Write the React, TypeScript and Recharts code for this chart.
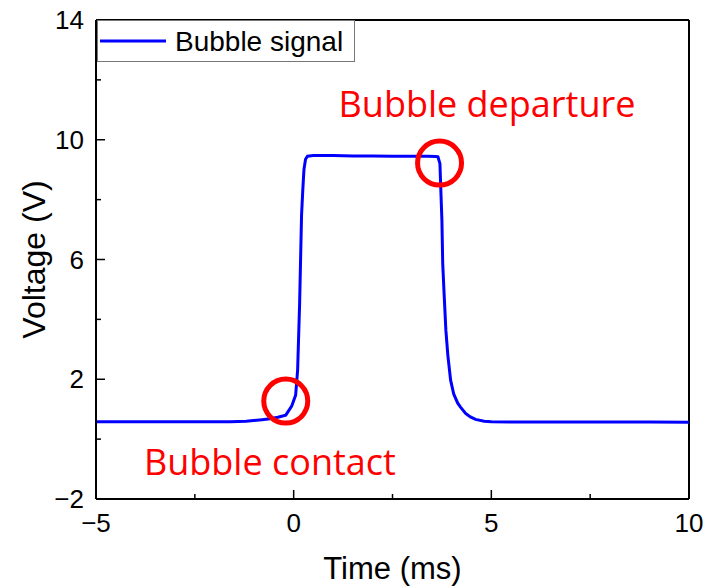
import React from 'react';
import {
  LineChart,
  Line,
  XAxis,
  YAxis,
  Legend,
  ReferenceDot,
  ReferenceLine,
} from 'recharts';

// time (ms) and voltage (V)
const TIME = [
  -5, -4, -3, -2, -1.6, -1.2, -0.8, -0.6, -0.4, -0.2, -0.15, -0.05, 0.05, 0.1, 0.15, 0.2, 0.23,
  0.26, 0.3, 0.35, 0.5, 1, 1.5, 2, 2.5, 3, 3.4, 3.6, 3.65, 3.7, 3.72, 3.75, 3.77, 3.8, 3.85,
  3.9, 3.97, 4.05, 4.15, 4.22, 4.35, 4.47, 4.6, 4.82, 5, 6, 7, 8, 9, 10,
];
const VOLTAGE = [
  0.58, 0.58, 0.58, 0.58, 0.58, 0.6, 0.65, 0.68, 0.73, 0.8, 0.9, 1.1, 1.47, 2.3, 4.5, 7.5, 8.3,
  9.0, 9.35, 9.45, 9.47, 9.47, 9.46, 9.46, 9.45, 9.45, 9.45, 9.44, 9.43, 9.2, 8.42, 7.3, 5.88,
  5.0, 3.64, 2.8, 1.97, 1.5, 1.2, 1.07, 0.86, 0.74, 0.66, 0.6, 0.58, 0.57, 0.57, 0.57, 0.57, 0.56,
];

const X_TICKS = [-5, -2.5, 0, 2.5, 5, 7.5, 10];
const X_MAJOR = [-5, 0, 5, 10];
const Y_TICKS = [-2, 0, 2, 4, 6, 8, 10, 12, 14];
const Y_MAJOR = [-2, 2, 6, 10, 14];

const data = TIME.map((t, i) => ({ t, v: VOLTAGE[i] }));

const AXIS_FONT = '"Liberation Sans", Arial, sans-serif';
const NOTE_FONT = '"Open Sans", sans-serif';
const MARGIN = 12;

const fmt = (v: number) => (v < 0 ? `\u2212${Math.abs(v)}` : `${v}`);

function XTick(props: any) {
  const { x, y, payload } = props;
  const axisY = y - MARGIN;
  const major = X_MAJOR.includes(payload.value);
  return (
    <g>
      <line x1={x} x2={x} y1={axisY} y2={axisY - (major ? 9 : 5)} stroke="#000" strokeWidth={1.5} />
      {major && (
        <text x={x} y={axisY + 33} textAnchor="middle" fontSize={26} fontFamily={AXIS_FONT} fill="#000">
          {fmt(payload.value)}
        </text>
      )}
    </g>
  );
}

function YTick(props: any) {
  const { x, y, payload } = props;
  const axisX = x + MARGIN;
  const major = Y_MAJOR.includes(payload.value);
  return (
    <g>
      <line x1={axisX} x2={axisX + (major ? 9 : 5)} y1={y} y2={y} stroke="#000" strokeWidth={1.5} />
      {major && (
        <text x={axisX - 12} y={y + 9} textAnchor="end" fontSize={26} fontFamily={AXIS_FONT} fill="#000">
          {fmt(payload.value)}
        </text>
      )}
    </g>
  );
}

function LegendBox() {
  return (
    <svg width={258} height={42} style={{ display: 'block' }}>
      <rect x={0.5} y={0.5} width={257} height={41} fill="#fff" stroke="#777" strokeWidth={1} />
      <line x1={3} x2={69} y1={21} y2={21} stroke="#0000ff" strokeWidth={3} />
      <text x={78} y={31} fontSize={28} fontFamily={AXIS_FONT} fill="#000">
        Bubble signal
      </text>
    </svg>
  );
}

export default function App() {
  return (
    <div style={{ position: 'absolute', left: 0, top: 0, width: 706, height: 587 }}>
      <LineChart
        width={706}
        height={587}
        data={data}
        margin={{ top: 20, right: 17, bottom: 0, left: 0 }}
        style={{ background: '#fff' }}
      >
        <XAxis
          dataKey="t"
          type="number"
          domain={[-5, 10]}
          ticks={X_TICKS}
          interval={0}
          height={88}
          tickSize={0}
          tickMargin={MARGIN}
          tickLine={false}
          tick={<XTick />}
          axisLine={{ stroke: '#000', strokeWidth: 2 }}
          label={{
            value: 'Time (ms)',
            position: 'insideBottom',
            offset: 8,
            fontSize: 31,
            fontFamily: AXIS_FONT,
            fill: '#000',
          }}
        />
        <YAxis
          type="number"
          domain={[-2, 14]}
          ticks={Y_TICKS}
          interval={0}
          width={96}
          tickSize={0}
          tickMargin={MARGIN}
          tickLine={false}
          tick={<YTick />}
          axisLine={{ stroke: '#000', strokeWidth: 2 }}
          label={{
            value: 'Voltage (V)',
            angle: -90,
            position: 'insideLeft',
            offset: 34,
            fontSize: 32,
            fontFamily: AXIS_FONT,
            fill: '#000',
            style: { textAnchor: 'middle' },
          }}
        />
        <ReferenceLine y={14} stroke="#000" strokeWidth={2} />
        <ReferenceLine x={10} stroke="#000" strokeWidth={2} />
        <Legend
          layout="horizontal"
          verticalAlign="middle"
          align="center"
          content={<LegendBox />}
          wrapperStyle={{ top: 20, left: 97, width: 258, height: 42 }}
        />
        <Line
          type="linear"
          dataKey="v"
          name="Bubble signal"
          stroke="#0000ff"
          strokeWidth={3}
          dot={false}
          isAnimationActive={false}
        />
        <ReferenceDot x={-0.2} y={1.27} r={22} fill="none" stroke="#ff0000" strokeWidth={5} />
        <ReferenceDot x={3.69} y={9.22} r={22} fill="none" stroke="#ff0000" strokeWidth={5} />
        <ReferenceDot
          x={4.89}
          y={11.18}
          r={0}
          fill="none"
          stroke="none"
          label={{ value: 'Bubble departure', position: 'center', fontSize: 36, fontFamily: NOTE_FONT, fill: '#ff0000' }}
        />
        <ReferenceDot
          x={-0.6}
          y={-0.78}
          r={0}
          fill="none"
          stroke="none"
          label={{ value: 'Bubble contact', position: 'center', fontSize: 36, fontFamily: NOTE_FONT, fill: '#ff0000' }}
        />
      </LineChart>
    </div>
  );
}
